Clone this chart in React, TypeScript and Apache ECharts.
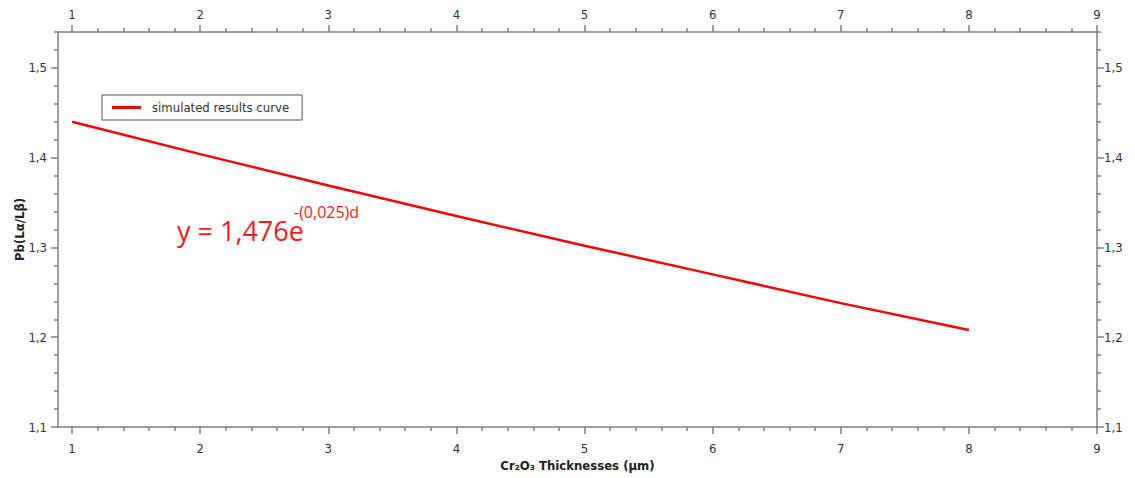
import React, { useEffect, useRef } from "react";
import * as echarts from "echarts";

const thickness = [1, 2, 3, 4, 5, 6, 7, 8];
const ratio = [1.44, 1.404, 1.369, 1.335, 1.302, 1.27, 1.238, 1.208];
const xMajor = [1, 2, 3, 4, 5, 6, 7, 8, 9];
const xMinor = [1.2, 1.4, 1.6, 1.8, 2.2, 2.4, 2.6, 2.8, 3.2, 3.4, 3.6, 3.8, 4.2, 4.4, 4.6, 4.8, 5.2, 5.4, 5.6, 5.8, 6.2, 6.4, 6.6, 6.8, 7.2, 7.4, 7.6, 7.8, 8.2, 8.4, 8.6, 8.8];
const yMajor = [1.1, 1.2, 1.3, 1.4, 1.5];
const yMinor = [1.12, 1.14, 1.16, 1.18, 1.22, 1.24, 1.26, 1.28, 1.32, 1.34, 1.36, 1.38, 1.42, 1.44, 1.46, 1.48, 1.52, 1.54];
const seriesName = "simulated results curve";
const xName = "Cr\u2082O\u2083 Thicknesses (\u00b5m)";
const yName = "Pb(L\u03b1/L\u03b2)";
const eqMain = "y = 1,476e";
const eqSup = "-(0,025)d";

const FONT = "'DejaVu Sans Condensed', 'DejaVu Sans', sans-serif";
const AXIS_COLOR = "#808080";
const LABEL_COLOR = "#333";

const X_MIN = 0.89;
const X_MAX = 9;
const Y_MIN = 1.1;
const Y_MAX = 1.54;

function xAxisPair(position: "bottom" | "top", withName: boolean) {
  const major: any = {
    type: "value",
    position,
    min: X_MIN,
    max: X_MAX,
    splitNumber: 8,
    axisLine: { show: true, onZero: false, lineStyle: { color: AXIS_COLOR, width: 1.5 } },
    axisTick: { show: true, customValues: xMajor, length: 7, lineStyle: { color: AXIS_COLOR, width: 1.5 } },
    axisLabel: {
      show: true,
      customValues: xMajor,
      margin: position === "bottom" ? 15 : 11,
      color: LABEL_COLOR,
      fontFamily: FONT,
      fontSize: 13,
    },
    splitLine: { show: false },
  };
  if (withName) {
    major.name = xName;
    major.nameLocation = "middle";
    major.nameGap = 32;
    major.nameMoveOverlap = false;
    major.nameTextStyle = { fontFamily: FONT, fontSize: 13, fontWeight: "bold", color: "#222" };
  }
  const minor: any = {
    type: "value",
    position,
    min: X_MIN,
    max: X_MAX,
    splitNumber: 8,
    axisLine: { show: false, onZero: false },
    axisTick: { show: true, customValues: xMinor, length: 4, lineStyle: { color: AXIS_COLOR, width: 1.5 } },
    axisLabel: { show: false },
    splitLine: { show: false },
  };
  return [major, minor];
}

function yAxisPair(position: "left" | "right", withName: boolean) {
  const fmt = (v: number) => v.toFixed(1).replace(".", ",");
  const major: any = {
    type: "value",
    position,
    min: Y_MIN,
    max: Y_MAX,
    splitNumber: 4,
    axisLine: { show: true, onZero: false, lineStyle: { color: AXIS_COLOR, width: 1.5 } },
    axisTick: { show: true, customValues: yMajor, length: 7, lineStyle: { color: AXIS_COLOR, width: 1.5 } },
    axisLabel: {
      show: true,
      customValues: yMajor,
      formatter: fmt,
      margin: position === "left" ? 11 : 7,
      color: LABEL_COLOR,
      fontFamily: FONT,
      fontSize: 13,
    },
    splitLine: { show: false },
  };
  if (withName) {
    major.name = yName;
    major.nameLocation = "middle";
    major.nameGap = 32;
    major.nameMoveOverlap = false;
    major.nameTextStyle = { fontFamily: FONT, fontSize: 13, fontWeight: "bold", color: "#222" };
  }
  const minor: any = {
    type: "value",
    position,
    min: Y_MIN,
    max: Y_MAX,
    splitNumber: 4,
    axisLine: { show: false, onZero: false },
    axisTick: { show: true, customValues: yMinor, length: 4, lineStyle: { color: AXIS_COLOR, width: 1.5 } },
    axisLabel: { show: false },
    splitLine: { show: false },
  };
  return [major, minor];
}

export default function App() {
  const ref = useRef<HTMLDivElement>(null);
  useEffect(() => {
    if (!ref.current) return;
    const chart = echarts.init(ref.current, null, { renderer: "svg" });
    chart.setOption({
      animation: false,
      backgroundColor: "#ffffff",
      grid: { left: 58, right: 38, top: 32, bottom: 51, containLabel: false, outerBoundsMode: "none" },
      legend: {
        left: 102,
        top: 95,
        orient: "vertical",
        data: [seriesName],
        icon: "rect",
        itemWidth: 29,
        itemHeight: 3,
        borderColor: "#555",
        borderWidth: 1,
        padding: [6, 13, 6, 10],
        textStyle: { fontFamily: FONT, fontSize: 13, color: "#333", padding: [0, 0, 0, 6] },
      },
      xAxis: [...xAxisPair("bottom", true), ...xAxisPair("top", false)],
      yAxis: [...yAxisPair("left", true), ...yAxisPair("right", false)],
      series: [
        {
          name: seriesName,
          type: "line",
          xAxisIndex: 0,
          yAxisIndex: 0,
          data: thickness.map((t, i) => [t, ratio[i]]),
          showSymbol: false,
          symbol: "none",
          lineStyle: { color: "#ff0000", width: 2.5 },
          itemStyle: { color: "#ff0000" },
        },
      ],
      graphic: [
        {
          type: "text",
          left: 177,
          top: 217,
          style: {
            text: eqMain,
            fill: "#ff1a1a",
            font: "27px 'Open Sans', sans-serif",
          },
        },
        {
          type: "text",
          left: 294,
          top: 204,
          style: {
            text: eqSup,
            fill: "#ff1a1a",
            font: "16px 'Open Sans', sans-serif",
          },
        },
      ],
    });
    return () => chart.dispose();
  }, []);
  return (
    <div
      ref={ref}
      style={{ position: "fixed", left: 0, top: 0, width: 1135, height: 478, background: "#fff" }}
    />
  );
}
